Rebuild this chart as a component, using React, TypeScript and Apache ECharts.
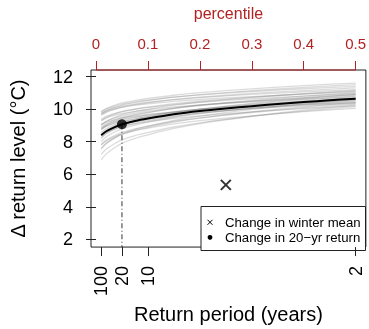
import React, { useEffect, useRef } from "react";
import * as echarts from "echarts";

// Exceedance probabilities at which each ensemble member is tabulated
const memberProb = [0.01, 0.02, 0.035, 0.05, 0.075, 0.1, 0.15, 0.2, 0.3, 0.4, 0.5];

// Change in return level (°C) for each ensemble member
const members: number[][] = [
  [7.80, 8.05, 8.29, 8.48, 8.68, 8.83, 9.09, 9.29, 9.59, 9.84, 10.05],
  [7.23, 7.55, 7.86, 8.11, 8.37, 8.56, 8.90, 9.16, 9.55, 9.88, 10.15],
  [8.40, 8.60, 8.79, 8.94, 9.10, 9.22, 9.43, 9.59, 9.83, 10.03, 10.20],
  [6.88, 7.25, 7.61, 7.90, 8.20, 8.42, 8.81, 9.11, 9.56, 9.94, 10.25],
  [7.83, 8.10, 8.36, 8.57, 8.79, 8.96, 9.24, 9.46, 9.79, 10.07, 10.30],
  [8.78, 8.95, 9.12, 9.25, 9.39, 9.50, 9.68, 9.82, 10.03, 10.20, 10.35],
  [7.59, 7.90, 8.20, 8.44, 8.69, 8.88, 9.20, 9.45, 9.83, 10.14, 10.40],
  [8.43, 8.65, 8.87, 9.04, 9.22, 9.35, 9.59, 9.77, 10.04, 10.26, 10.45],
  [8.25, 8.50, 8.74, 8.93, 9.13, 9.28, 9.54, 9.74, 10.04, 10.29, 10.50],
  [8.86, 9.05, 9.23, 9.37, 9.52, 9.64, 9.83, 9.98, 10.21, 10.39, 10.55],
  [8.01, 8.30, 8.58, 8.79, 9.02, 9.20, 9.50, 9.73, 10.07, 10.36, 10.60],
  [8.74, 8.95, 9.15, 9.32, 9.49, 9.61, 9.83, 10.00, 10.26, 10.47, 10.65],
  [8.56, 8.80, 9.03, 9.21, 9.40, 9.54, 9.79, 9.98, 10.26, 10.50, 10.70],
  [9.29, 9.45, 9.61, 9.73, 9.86, 9.96, 10.13, 10.26, 10.45, 10.61, 10.75],
  [8.44, 8.70, 8.95, 9.15, 9.36, 9.52, 9.79, 10.00, 10.32, 10.58, 10.80],
  [9.05, 9.25, 9.44, 9.59, 9.75, 9.87, 10.08, 10.24, 10.48, 10.68, 10.85],
  [8.88, 9.10, 9.32, 9.49, 9.67, 9.80, 10.04, 10.22, 10.49, 10.71, 10.90],
  [9.38, 9.55, 9.72, 9.85, 9.99, 10.10, 10.28, 10.42, 10.63, 10.80, 10.95],
  [8.75, 9.00, 9.24, 9.43, 9.63, 9.78, 10.04, 10.24, 10.54, 10.79, 11.00],
  [9.70, 9.85, 9.99, 10.11, 10.23, 10.32, 10.47, 10.59, 10.77, 10.92, 11.05],
  [9.30, 9.50, 9.69, 9.84, 10.00, 10.12, 10.33, 10.49, 10.73, 10.93, 11.10],
  [9.01, 9.25, 9.48, 9.66, 9.85, 9.99, 10.24, 10.43, 10.71, 10.95, 11.15],
  [9.74, 9.90, 10.06, 10.18, 10.31, 10.41, 10.58, 10.71, 10.90, 11.06, 11.20],
  [9.61, 9.80, 9.98, 10.12, 10.27, 10.39, 10.58, 10.73, 10.96, 11.14, 11.30],
  [9.83, 10.00, 10.17, 10.30, 10.44, 10.55, 10.73, 10.87, 11.08, 11.25, 11.40],
  [9.70, 9.90, 10.09, 10.24, 10.40, 10.52, 10.73, 10.89, 11.13, 11.33, 11.50],
  [9.85, 10.04, 10.23, 10.38, 10.53, 10.65, 10.85, 11.01, 11.24, 11.44, 11.60],
  [7.56, 7.90, 8.22, 8.48, 8.75, 8.95, 9.30, 9.57, 9.98, 10.32, 10.60],
  [8.20, 8.50, 8.79, 9.02, 9.26, 9.44, 9.75, 9.99, 10.35, 10.65, 10.90],
  [9.05, 9.20, 9.34, 9.46, 9.58, 9.67, 9.82, 9.94, 10.12, 10.27, 10.40],
];

// Best-estimate curve
const centralProb = [0.01, 0.02, 0.035, 0.05, 0.075, 0.1, 0.15, 0.2, 0.25, 0.3, 0.35, 0.4, 0.45, 0.5];
const centralLevel = [8.39, 8.64, 8.88, 9.07, 9.27, 9.42, 9.68, 9.88, 10.04, 10.18, 10.31, 10.43, 10.54, 10.64];

// Highlighted values
const return20Period = 20;
const return20Level = 9.07;
const winterMeanProb = 0.25;
const winterMeanLevel = 5.35;

// Axis ticks
const returnPeriodTicks = [100, 20, 10, 2];
const percentileTicks = [0, 0.1, 0.2, 0.3, 0.4, 0.5];
const levelTicks = [2, 4, 6, 8, 10, 12];

const X_MIN = -0.0096;
const X_MAX = 0.5196;
const Y_MIN = 1.53;
const Y_MAX = 12.4;

const FONT = "'Liberation Sans', Arial, Helvetica, sans-serif";
const RED = "#b22222";

export default function App() {
  const ref = useRef<HTMLDivElement>(null);

  useEffect(() => {
    if (!ref.current) return;
    const chart = echarts.init(ref.current, undefined, { renderer: "svg" });

    const memberSeries = members.map((vals, i) => ({
      name: "member" + i,
      type: "line",
      xAxisIndex: 0,
      data: memberProb.map((p, j) => [p, vals[j]]),
      smooth: 0.3,
      showSymbol: false,
      silent: true,
      lineStyle: { color: "rgba(125,125,125,0.27)", width: 1.3 },
      z: 2,
    }));

    const p20 = 1 / return20Period;

    chart.setOption({
      animation: false,
      textStyle: { fontFamily: FONT },
      grid: {
        left: 88,
        right: 2.5,
        top: 69,
        bottom: 76,
        show: true,
        borderColor: "#222",
        borderWidth: 1,
        backgroundColor: "transparent",
      },
      xAxis: [
        {
          type: "value",
          position: "bottom",
          min: X_MIN,
          max: X_MAX,
          name: "Return period (years)",
          nameLocation: "middle",
          nameGap: 54,
          nameTextStyle: { fontSize: 20, color: "#000", fontFamily: FONT },
          axisLine: { show: false },
          splitLine: { show: false },
          axisTick: {
            show: true,
            length: 9,
            lineStyle: { color: "#222" },
            customValues: returnPeriodTicks.map((t) => 1 / t),
          },
          axisLabel: {
            show: true,
            rotate: 90,
            margin: 19,
            fontSize: 18,
            color: "#000",
            fontFamily: FONT,
            customValues: returnPeriodTicks.map((t) => 1 / t),
            formatter: (v: number) => String(Math.round(1 / v)),
          },
        },
        {
          type: "value",
          position: "top",
          min: X_MIN,
          max: X_MAX,
          name: "percentile",
          nameLocation: "middle",
          nameGap: 49,
          nameTextStyle: { fontSize: 16, color: RED, fontFamily: FONT },
          axisLine: { show: false },
          splitLine: { show: false },
          axisTick: {
            show: true,
            length: 9,
            lineStyle: { color: RED },
            customValues: percentileTicks,
          },
          axisLabel: {
            show: true,
            margin: 19,
            fontSize: 15,
            color: RED,
            fontFamily: FONT,
            customValues: percentileTicks,
            formatter: (v: number) => String(Math.round(v * 10) / 10),
          },
        },
      ],
      yAxis: {
        type: "value",
        min: Y_MIN,
        max: Y_MAX,
        name: "Δ return level (°C)",
        nameLocation: "middle",
        nameGap: 63,
        nameRotate: 90,
        nameTextStyle: { fontSize: 20, color: "#000", fontFamily: FONT },
        axisLine: { show: false },
        splitLine: { show: false },
        axisTick: {
          show: true,
          length: 10,
          lineStyle: { color: "#222" },
          customValues: levelTicks,
        },
        axisLabel: {
          show: true,
          margin: 18,
          fontSize: 18,
          color: "#000",
          fontFamily: FONT,
          customValues: levelTicks,
        },
      },
      series: [
        ...memberSeries,
        {
          name: "central",
          type: "line",
          data: centralProb.map((p, j) => [p, centralLevel[j]]),
          smooth: 0.3,
          showSymbol: false,
          silent: true,
          lineStyle: { color: "#000", width: 2 },
          z: 3,
        },
        {
          name: "dropline",
          type: "line",
          data: [
            [p20, return20Level],
            [p20, Y_MIN],
          ],
          showSymbol: false,
          silent: true,
          lineStyle: { color: "#333", width: 1, type: [5, 2.5, 1, 2.5] },
          z: 3,
        },
        {
          name: "Change in 20−yr return",
          type: "scatter",
          data: [[p20, return20Level]],
          symbol: "circle",
          symbolSize: 10,
          itemStyle: { color: "#000" },
          silent: true,
          z: 4,
        },
        {
          name: "Change in winter mean",
          type: "scatter",
          data: [[winterMeanProb, winterMeanLevel]],
          symbol: "path://M0,0L10,10M10,0L0,10",
          symbolSize: 10,
          itemStyle: { color: "none", borderColor: "#000", borderWidth: 2 },
          silent: true,
          z: 4,
        },
        {
          name: "percentile axis",
          type: "line",
          xAxisIndex: 1,
          data: [
            [percentileTicks[0], Y_MAX],
            [percentileTicks[percentileTicks.length - 1], Y_MAX],
          ],
          showSymbol: false,
          silent: true,
          clip: false,
          lineStyle: { color: RED, width: 1 },
          z: 5,
        },
      ],
      graphic: [
        {
          type: "group",
          z: 100,
          children: [
            {
              type: "rect",
              shape: { x: 201, y: 206.5, width: 164.5, height: 44 },
              style: { fill: "#fff", stroke: "#222", lineWidth: 1 },
            },
            {
              type: "line",
              shape: { x1: 207.5, y1: 219.8, x2: 212.5, y2: 224.8 },
              style: { stroke: "#000", lineWidth: 1 },
            },
            {
              type: "line",
              shape: { x1: 212.5, y1: 219.8, x2: 207.5, y2: 224.8 },
              style: { stroke: "#000", lineWidth: 1 },
            },
            {
              type: "circle",
              shape: { cx: 210, cy: 237.3, r: 2.4 },
              style: { fill: "#000" },
            },
            {
              type: "text",
              x: 225,
              y: 222.3,
              style: {
                text: "Change in winter mean",
                fontSize: 13.2,
                fontFamily: FONT,
                fill: "#000",
                verticalAlign: "middle",
              },
            },
            {
              type: "text",
              x: 225,
              y: 237.3,
              style: {
                text: "Change in 20−yr return",
                fontSize: 13.2,
                fontFamily: FONT,
                fill: "#000",
                verticalAlign: "middle",
              },
            },
          ],
        },
      ],
    });

    return () => chart.dispose();
  }, []);

  return (
    <div
      ref={ref}
      style={{ position: "fixed", left: 0, top: 0, width: 369, height: 329 }}
    />
  );
}
